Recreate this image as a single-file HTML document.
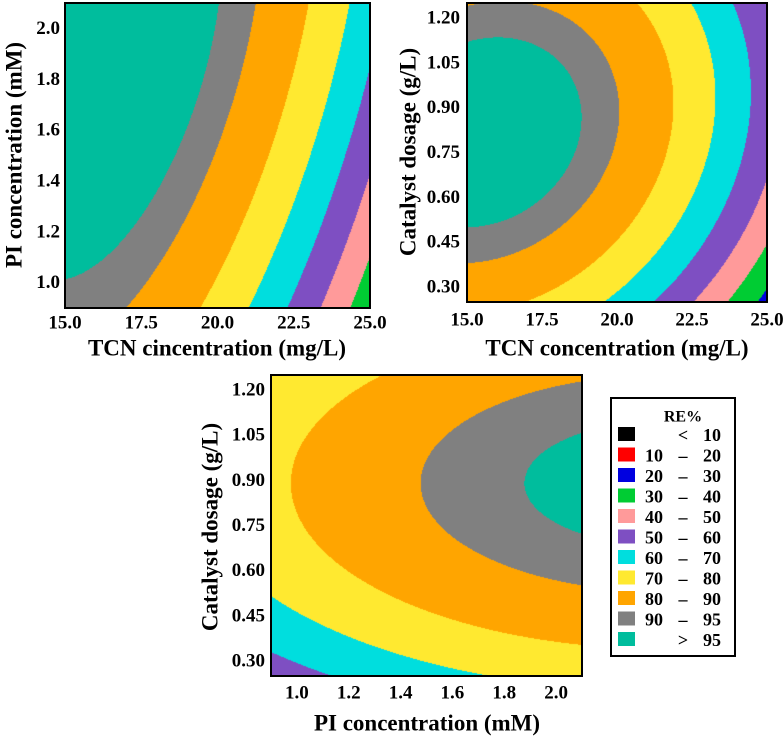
<!DOCTYPE html>
<html><head><meta charset="utf-8">
<style>
html,body{margin:0;padding:0;background:#fff;}
body{width:783px;height:737px;position:relative;overflow:hidden;font-family:"Liberation Serif",serif;font-weight:bold;}
canvas{position:absolute;}
svg{position:absolute;left:0;top:0;}
</style></head>
<body>
<canvas id="c1"></canvas>
<canvas id="c2"></canvas>
<canvas id="c3"></canvas>
<svg id="ov" width="783" height="737"></svg>
<script>
// contour levels and colours
const levels = [10, 20, 30, 40, 50, 60, 70, 80, 90, 95];
const bandColors = ["#000000","#ff0000","#0000e0","#00cc33","#ff9a9a","#7e4fc2","#00dede","#ffe930","#ffa500","#808080","#00bd9d"];
const legendLabels = [["","<","10"],["10","\u2013","20"],["20","\u2013","30"],["30","\u2013","40"],["40","\u2013","50"],["50","\u2013","60"],["60","\u2013","70"],["70","\u2013","80"],["80","\u2013","90"],["90","\u2013","95"],["",">","95"]];
// response-surface model coefficients
const model1 = [93.3, 16.1, -9.8, -0.56, 2.2, -0.55];      // RE(TCN, PI)
const model2 = [100.4, 0.519, -0.506, 56.3, 0.81, 0.015];   // RE(TCN, catalyst)
const model3 = [78.1, 25.4, -8.3, 57.7, 0.89];              // RE(PI, catalyst)
// axis tick labels
const tcnTicks = ["15.0","17.5","20.0","22.5","25.0"];
const piTicks = ["1.0","1.2","1.4","1.6","1.8","2.0"];
const catTicks = ["0.30","0.45","0.60","0.75","0.90","1.05","1.20"];

function f1(T,P){const m=model1,q=P-0.9,u=T-15;return m[0]+m[1]*q+m[2]*q*q+(m[3]+m[4]*q)*u+m[5]*u*u;}
function f2(T,C){const m=model2,u=T-15,d=C-m[4]-m[5]*u;return m[0]+m[1]*u+m[2]*u*u-m[3]*d*d;}
function f3(P,C){const m=model3,q=P-0.9;return m[0]+m[1]*q+m[2]*q*q-m[3]*(C-m[4])*(C-m[4]);}

const panels=[
 {id:"c1",x0:65,y0:3,x1:370,y1:308,xd:[15,25],yd:[0.9,2.1],fn:f1,xt:tcnTicks,yt:piTicks,
  xtitle:"TCN cincentration (mg/L)",ytitle:"PI concentration (mM)",xtY:323,ytX:60,xTitle:[217,348],yTitle:[14,155],name:"tcn-pi"},
 {id:"c2",x0:467,y0:3,x1:767,y1:302,xd:[15,25],yd:[0.25,1.25],fn:f2,xt:tcnTicks,yt:catTicks,
  xtitle:"TCN concentration (mg/L)",ytitle:"Catalyst dosage (g/L)",xtY:320,ytX:460,xTitle:[617,348],yTitle:[408,152],name:"tcn-catalyst"},
 {id:"c3",x0:271,y0:375,x1:582,y1:676,xd:[0.9,2.1],yd:[0.25,1.25],fn:f3,xt:piTicks,yt:catTicks,
  xtitle:"PI concentration (mM)",ytitle:"Catalyst dosage (g/L)",xtY:693,ytX:265,xTitle:[427,723],yTitle:[210,527],name:"pi-catalyst"}
];
function hex(c){return [parseInt(c.substr(1,2),16),parseInt(c.substr(3,2),16),parseInt(c.substr(5,2),16)];}
const rgb=bandColors.map(hex);
const NS="http://www.w3.org/2000/svg";
const ov=document.getElementById("ov");
function txt(x,y,s,size,anchor,rot){const t=document.createElementNS(NS,"text");
 t.setAttribute("x",x);t.setAttribute("y",y);t.setAttribute("font-size",size);t.setAttribute("text-anchor",anchor||"middle");
 t.setAttribute("dominant-baseline","central");t.setAttribute("font-family","Liberation Serif, serif");t.setAttribute("font-weight","bold");
 if(rot)t.setAttribute("transform","rotate(-90 "+x+" "+y+")");t.textContent=s;ov.appendChild(t);return t;}
panels.forEach(p=>{
 const w=p.x1-p.x0,h=p.y1-p.y0,cv=document.getElementById(p.id);
 cv.width=w;cv.height=h;cv.style.left=p.x0+"px";cv.style.top=p.y0+"px";
 const ctx=cv.getContext("2d"),img=ctx.createImageData(w,h);
 const sx=v=>p.x0+(v-p.xd[0])/(p.xd[1]-p.xd[0])*w, sy=v=>p.y1-(v-p.yd[0])/(p.yd[1]-p.yd[0])*h;
 for(let j=0;j<h;j++){const yv=p.yd[1]-(j+0.5)/h*(p.yd[1]-p.yd[0]);
  for(let i=0;i<w;i++){const xv=p.xd[0]+(i+0.5)/w*(p.xd[1]-p.xd[0]);
   const v=p.fn(xv,yv);let k=0;while(k<levels.length&&v>=levels[k])k++;
   const c=rgb[k],o=(j*w+i)*4;img.data[o]=c[0];img.data[o+1]=c[1];img.data[o+2]=c[2];img.data[o+3]=255;}}
 ctx.putImageData(img,0,0);
 const r=document.createElementNS(NS,"rect");r.setAttribute("x",p.x0);r.setAttribute("y",p.y0);r.setAttribute("width",w);r.setAttribute("height",h);
 r.setAttribute("fill","none");r.setAttribute("stroke","#000");r.setAttribute("stroke-width","2");
 
 
 ov.appendChild(r);
 p.xt.forEach(s=>{const t=txt(sx(parseFloat(s)),p.xtY,s,19);
  
  });
 p.yt.forEach(s=>{const t=txt(p.ytX,sy(parseFloat(s)),s,19,"end");
  
  });
 const xt=txt(p.xTitle[0],p.xTitle[1],p.xtitle,23);
 
 
 const yt=txt(p.yTitle[0],p.yTitle[1],p.ytitle,23,"middle",true);
 
 
});
// legend
const lb=document.createElementNS(NS,"rect");lb.setAttribute("x",611);lb.setAttribute("y",398);lb.setAttribute("width",124);lb.setAttribute("height",258);
lb.setAttribute("fill","#fff");lb.setAttribute("stroke","#000");lb.setAttribute("stroke-width","2");


ov.appendChild(lb);
const lt=txt(683,417,"RE%",16);


legendLabels.forEach((L,i)=>{const cy=434+i*20.5;
 const s=document.createElementNS(NS,"rect");s.setAttribute("x",618);s.setAttribute("y",cy-7);s.setAttribute("width",17);s.setAttribute("height",14);s.setAttribute("fill",bandColors[i]);
 
 
 ov.appendChild(s);
 if(L[0]){const a=txt(645,cy+1,L[0],18,"start");}
 const b=txt(683,cy+1,L[1],18);
 const c=txt(721,cy+1,L[2],18,"end");
});
</script>
</body></html>
